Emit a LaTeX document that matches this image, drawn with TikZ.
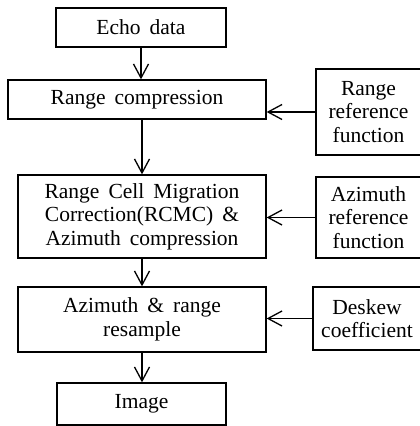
\documentclass[tikz,border=0pt]{standalone}
\usepackage{fontspec}
\setmainfont{Liberation Serif}
\usetikzlibrary{arrows.meta}
\newcommand\widespacing{\spaceskip=0.42em plus 0.1em minus 0.05em\relax}
\begin{document}
\begin{tikzpicture}[x=1pt,y=-1pt,
  box/.style={draw, line width=1.3pt, inner sep=0pt, align=center,
    font=\fontsize{21.5}{23.5}\selectfont, execute at begin node=\widespacing},
  arr/.style={line width=1.3pt, -{Straight Barb[length=14pt,width=15pt,line width=1.3pt]}}]
\useasboundingbox (0,0) rectangle (420,426);
\node[box, minimum width=170pt, minimum height=39pt] (echo) at (141,27.5) {Echo data};
\node[box, minimum width=258pt, minimum height=39pt] (rc) at (137,99.5) {Range compression};
\node[box, minimum width=105pt, minimum height=86pt] (rref) at (368.5,112) {Range\\reference\\function};
\node[box, minimum width=248pt, minimum height=83pt] (rcmc) at (142,216.5) {Range Cell Migration\\Correction(RCMC) \&\\Azimuth compression};
\node[box, minimum width=105pt, minimum height=81pt] (azref) at (368.5,217.5) {Azimuth\\reference\\function};
\node[box, minimum width=248pt, minimum height=65pt] (azr) at (142,319.5) {Azimuth \& range\\resample};
\node[box, minimum width=108pt, minimum height=63pt] (desk) at (367,318.5) {Deskew\\coefficient};
\node[box, minimum width=169pt, minimum height=42pt] (img) at (141.5,404) {Image};
\draw[arr] (echo.south) -- (echo.south |- rc.north);
\draw[arr] (rcmc.north |- rc.south) -- (rcmc.north);
\draw[arr] (rcmc.south) -- (azr.north);
\draw[arr] (azr.south) -- (azr.south |- img.north);
\draw[arr] (rref.west) -- (rref.west -| rc.east);
\draw[arr] (azref.west) -- (azref.west -| rcmc.east);
\draw[arr] (desk.west) -- (desk.west -| azr.east);
\end{tikzpicture}
\end{document}
